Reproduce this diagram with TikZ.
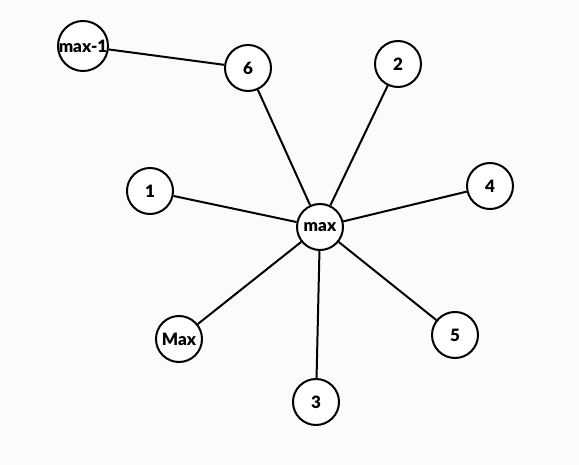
\documentclass[tikz,border=0pt]{standalone}
\usepackage{fontspec}
\setmainfont{Lato}
\newfontfamily\heavyfont{Lato Black}
\begin{document}
\begin{tikzpicture}[x=1pt,y=-1pt,
  vert/.style={circle,draw=black,fill=white,line width=2pt,minimum size=46pt,inner sep=0pt,font=\heavyfont\fontsize{17}{17}\selectfont},
  edge/.style={line width=2pt}]
\fill[gray!3] (0,0) rectangle (579,465);
\useasboundingbox (0,0) rectangle (579,465);
\node[vert] (mx) at (320,227) {max};
\node[vert] (m1) at (83,46) {max-1};
\node[vert] (n6) at (248,68) {6};
\node[vert] (n2) at (398,64) {2};
\node[vert] (n1) at (150,191) {1};
\node[vert] (n4) at (490,186) {4};
\node[vert] (Mx) at (179,339) {Max};
\node[vert] (n5) at (455,335) {5};
\node[vert] (n3) at (316,402) {3};
\draw[edge] (m1) -- (n6);
\draw[edge] (n6) -- (mx);
\draw[edge] (n2) -- (mx);
\draw[edge] (n1) -- (mx);
\draw[edge] (n4) -- (mx);
\draw[edge] (Mx) -- (mx);
\draw[edge] (n5) -- (mx);
\draw[edge] (n3) -- (mx);
\end{tikzpicture}
\end{document}
